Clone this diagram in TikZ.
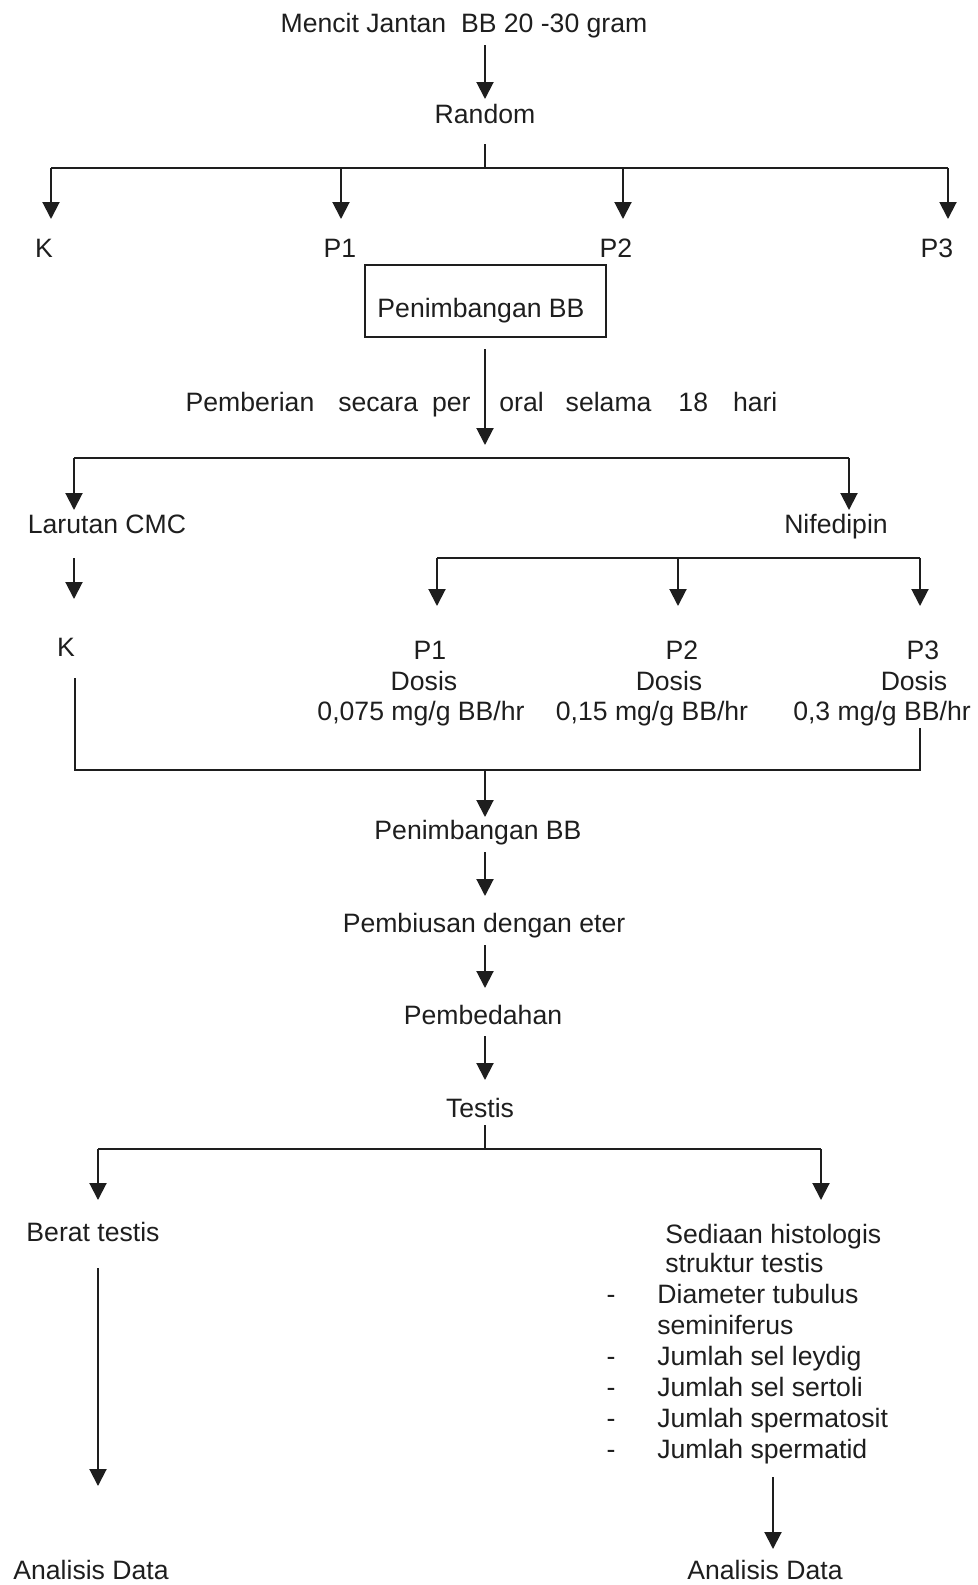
\documentclass[tikz,border=0pt]{standalone}
\usepackage{fontspec}
\setmainfont{Liberation Sans}
\usetikzlibrary{arrows.meta}
\definecolor{ink}{HTML}{1E1E1E}
\tikzset{
  txt/.style={font=\fontsize{13.3}{15.5}\selectfont, inner sep=0pt, anchor=base, text=ink},
  txtw/.style={txt, anchor=base west},
  ln/.style={line width=1pt, draw=ink},
  arr/.style={ln, -{Triangle[length=8.5pt,width=8.5pt]}},
  boxed/.style={draw=ink, line width=1.2pt, fill=none}
}
\begin{document}
\begin{tikzpicture}[x=0.5pt,y=-0.5pt]
\useasboundingbox (0,0) rectangle (978,1585);
% ---------- text nodes ----------
\node[txt] (mencit) at (464,32) {Mencit Jantan\ \ BB 20 -30 gram};
\node[txt] (random) at (485,123) {Random};
\node[txt] (k1) at (44,257) {K};
\node[txt] (p1a) at (340,257) {P1};
\node[txt] (p2a) at (616,257) {P2};
\node[txt] (p3a) at (937,257) {P3};
\node[txt] (pen1) at (481,317) {Penimbangan BB};
\draw[boxed] (365,265) rectangle (606,337);
\node[txt, anchor=base east] (pemL) at (471,411) {Pemberian\hspace{12pt}secara\hspace{7pt}per};
\node[txtw] (pemR) at (499,411) {oral\hspace{11pt}selama\hspace{13.5pt}18\hspace{12.5pt}hari};
\node[txt] (cmc) at (107,533) {Larutan CMC};
\node[txt] (nif) at (836,533) {Nifedipin};
\node[txt] (k2) at (66,656) {K};
\node[txt] (p1b) at (430,659) {P1};
\node[txt] (d1) at (424,690) {Dosis};
\node[txt] (v1) at (421,720) {0,075 mg/g BB/hr};
\node[txt] (p2b) at (682,659) {P2};
\node[txt] (d2) at (669,690) {Dosis};
\node[txt] (v2) at (652,720) {0,15 mg/g BB/hr};
\node[txt] (p3b) at (923,659) {P3};
\node[txt] (d3) at (914,690) {Dosis};
\node[txt] (v3) at (882,720) {0,3 mg/g BB/hr};
\node[txt] (pen2) at (478,839) {Penimbangan BB};
\node[txt] (bius) at (484,932) {Pembiusan dengan eter};
\node[txt] (bedah) at (483,1024) {Pembedahan};
\node[txt] (testis) at (480,1117) {Testis};
\node[txt] (berat) at (93,1241) {Berat testis};
\node[txtw] (sed1) at (665,1243) {Sediaan histologis};
\node[txtw] (sed2) at (665,1272) {struktur testis};
\node[txtw] (it1) at (657,1303) {Diameter tubulus};
\node[txtw] (it1b) at (657,1334) {seminiferus};
\node[txtw] (it2) at (657,1365) {Jumlah sel leydig};
\node[txtw] (it3) at (657,1396) {Jumlah sel sertoli};
\node[txtw] (it4) at (657,1427) {Jumlah spermatosit};
\node[txtw] (it5) at (657,1458) {Jumlah spermatid};
\foreach \yy/\nm in {1303/da,1365/db,1396/dc,1427/dd,1458/de}
  \node[txt] (\nm) at (611,\yy) {-};
\node[txt] (anL) at (91,1579) {Analisis Data};
\node[txt] (anR) at (765,1579) {Analisis Data};
% ---------- coordinates ----------
\coordinate (c1) at (485,45);   \coordinate (c1e) at (485,99);
\coordinate (c2) at (485,144);  \coordinate (c2j) at (485,168);
\coordinate (hK) at (51,168);   \coordinate (hKe) at (51,219);
\coordinate (h1) at (341,168);  \coordinate (h1e) at (341,219);
\coordinate (h2) at (623,168);  \coordinate (h2e) at (623,219);
\coordinate (h3) at (948,168);  \coordinate (h3e) at (948,219);
\coordinate (c3) at (485,349);  \coordinate (c3e) at (485,445);
\coordinate (gL) at (74,458);   \coordinate (gLe) at (74,510);
\coordinate (gR) at (849,458);  \coordinate (gRe) at (849,510);
\coordinate (c4) at (74,558);   \coordinate (c4e) at (74,599);
\coordinate (n1) at (437,558);  \coordinate (n1e) at (437,606);
\coordinate (n2) at (678,558);  \coordinate (n2e) at (678,606);
\coordinate (n3) at (920,558);  \coordinate (n3e) at (920,606);
\coordinate (mK) at (75,678);   \coordinate (mKj) at (75,770);
\coordinate (m3) at (920,728);  \coordinate (m3j) at (920,770);
\coordinate (mC) at (485,770);  \coordinate (mCe) at (485,817);
\coordinate (c5) at (485,852);  \coordinate (c5e) at (485,896);
\coordinate (c6) at (485,945);  \coordinate (c6e) at (485,988);
\coordinate (c7) at (485,1036); \coordinate (c7e) at (485,1080);
\coordinate (c8) at (485,1125); \coordinate (c8j) at (485,1149);
\coordinate (tL) at (98,1149);  \coordinate (tLe) at (98,1200);
\coordinate (tR) at (821,1149); \coordinate (tRe) at (821,1200);
\coordinate (c9) at (98,1268);  \coordinate (c9e) at (98,1486);
\coordinate (c10) at (773,1477); \coordinate (c10e) at (773,1549);
% ---------- connectors ----------
\draw[arr] (c1) -- (c1e);
\draw[ln] (c2) -- (c2j);
\draw[ln] (hK) -- (h3);
\draw[arr] (hK) -- (hKe);
\draw[arr] (h1) -- (h1e);
\draw[arr] (h2) -- (h2e);
\draw[arr] (h3) -- (h3e);
\draw[arr] (c3) -- (c3e);
\draw[ln] (gL) -- (gR);
\draw[arr] (gL) -- (gLe);
\draw[arr] (gR) -- (gRe);
\draw[arr] (c4) -- (c4e);
\draw[ln] (n1) -- (n3);
\draw[arr] (n1) -- (n1e);
\draw[arr] (n2) -- (n2e);
\draw[arr] (n3) -- (n3e);
\draw[ln] (mK) -- (mKj) -- (m3j) -- (m3);
\draw[arr] (mC) -- (mCe);
\draw[arr] (c5) -- (c5e);
\draw[arr] (c6) -- (c6e);
\draw[arr] (c7) -- (c7e);
\draw[ln] (c8) -- (c8j);
\draw[ln] (tL) -- (tR);
\draw[arr] (tL) -- (tLe);
\draw[arr] (tR) -- (tRe);
\draw[arr] (c9) -- (c9e);
\draw[arr] (c10) -- (c10e);
\end{tikzpicture}
\end{document}
